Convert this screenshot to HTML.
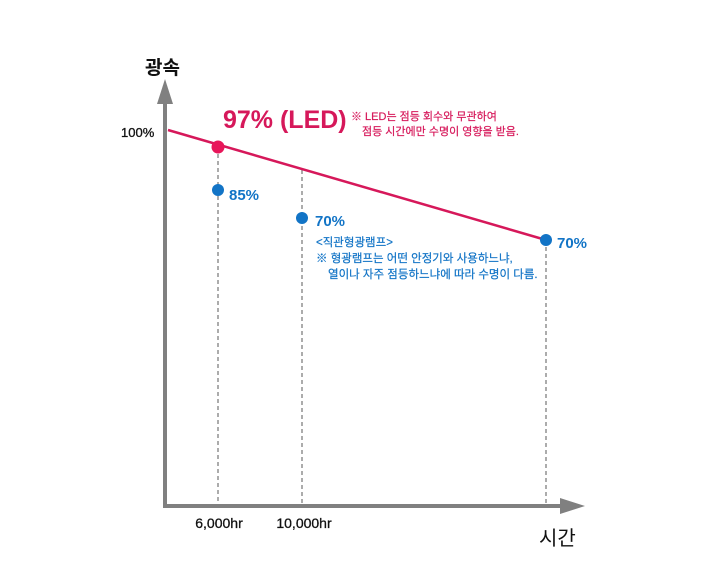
<!DOCTYPE html>
<html><head><meta charset="utf-8"><style>
html,body{margin:0;padding:0;background:#fff;}
svg text{font-family:"Liberation Sans","Noto Sans CJK KR",sans-serif;}
</style></head><body>
<svg width="720" height="575" viewBox="0 0 720 575" xmlns="http://www.w3.org/2000/svg">
<g stroke="#7f7f7f" stroke-width="1.3" stroke-dasharray="4,3">
<line x1="218" y1="147" x2="218" y2="505"/>
<line x1="302" y1="170" x2="302" y2="505"/>
<line x1="546" y1="240" x2="546" y2="505"/>
</g>
<line x1="165" y1="100" x2="165" y2="507" stroke="#808080" stroke-width="4"/>
<polygon points="165,79 157,104 173,104" fill="#808080"/>
<line x1="163" y1="506" x2="562" y2="506" stroke="#808080" stroke-width="4"/>
<polygon points="585,506 560,498 560,514" fill="#808080"/>
<line x1="168" y1="130" x2="546" y2="240" stroke="#d6185a" stroke-width="2.5"/>
<circle cx="218" cy="147" r="6.5" fill="#e8165a"/>
<circle cx="218" cy="190" r="6" fill="#1274c6"/>
<circle cx="302" cy="218" r="6" fill="#1274c6"/>
<circle cx="546" cy="240" r="6" fill="#1274c6"/>
<text x="145" y="74" font-size="19" font-weight="bold" fill="#111">광속</text>
<text x="121" y="137" font-size="13" fill="#111" stroke="#111" stroke-width="0.3">100%</text>
<text x="223" y="128" font-size="25" font-weight="bold" fill="#d6185a">97% (LED)</text>
<text x="351" y="120" font-size="11" fill="#d6185a" stroke="#d6185a" stroke-width="0.2">※ LED는 점등 회수와 무관하여</text>
<text x="362" y="135" font-size="11" fill="#d6185a" stroke="#d6185a" stroke-width="0.2">점등 시간에만 수명이 영향을 받음.</text>
<text x="229" y="200" font-size="15" font-weight="bold" fill="#1274c6">85%</text>
<text x="315" y="226" font-size="15" font-weight="bold" fill="#1274c6">70%</text>
<text x="557" y="248" font-size="15" font-weight="bold" fill="#1274c6">70%</text>
<g fill="#1274c6" stroke="#1274c6" stroke-width="0.2" font-size="11.5">
<text x="316" y="246">&lt;직관형광램프&gt;</text>
<text x="316" y="262">※ 형광램프는 어떤 안정기와 사용하느냐,</text>
<text x="328" y="278">열이나 자주 점등하느냐에 따라 수명이 다름.</text>
</g>
<g font-size="14" fill="#111" stroke="#111" stroke-width="0.3" text-anchor="middle">
<text x="219" y="528">6,000hr</text>
<text x="304" y="528">10,000hr</text>
</g>
<text x="539" y="545" font-size="20" fill="#111">시간</text>
</svg>
</body></html>
